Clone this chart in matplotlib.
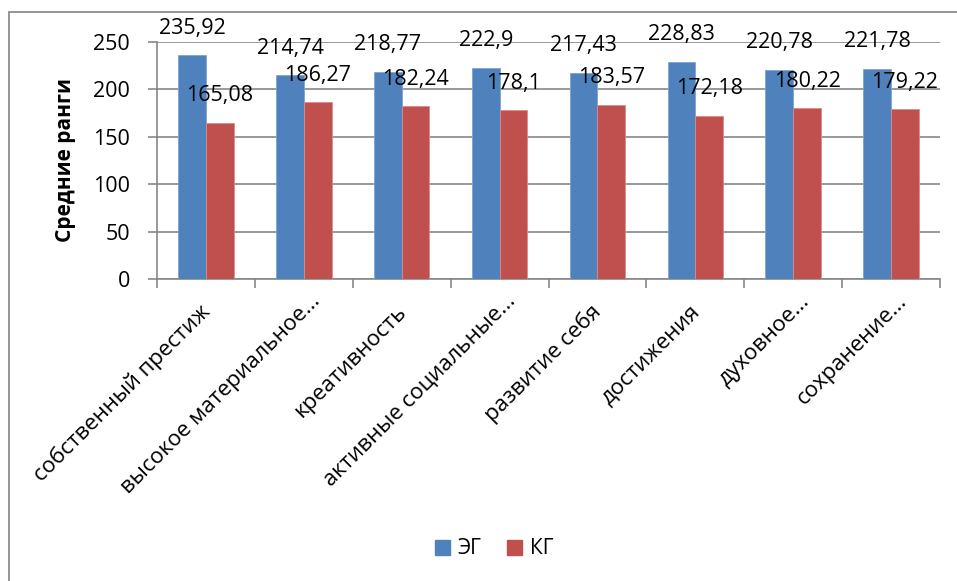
import matplotlib.pyplot as plt
import matplotlib.patches as mpatches
import matplotlib.transforms as mtransforms
import numpy as np

categories = ["собственный престиж", "высокое материальное...", "креативность",
              "активные социальные...", "развитие себя", "достижения",
              "духовное...", "сохранение..."]
eg_values = [235.92, 214.74, 218.77, 222.9, 217.43, 228.83, 220.78, 221.78]
kg_values = [165.08, 186.27, 182.24, 178.1, 183.57, 172.18, 180.22, 179.22]
series_names = ["ЭГ", "КГ"]

BLUE = "#4F81BD"
RED = "#C0504D"
GRID = "#878787"

plt.rcParams['font.family'] = ['Open Sans', 'DejaVu Sans']

fig = plt.figure(figsize=(9.57, 5.81), dpi=100)
ax = fig.add_axes([157 / 957, 1 - 279 / 581, 783 / 957, 237 / 581])

# chart area border (clipped at right/bottom like the screenshot)
fig.patches.append(mpatches.Rectangle((9 / 957, -0.05), 1.1, 1 - 12 / 581 + 0.05,
                                      transform=fig.transFigure, fill=False,
                                      edgecolor="#8c8c8c", linewidth=1.3))

x = np.arange(len(categories))
w = 0.283
b1 = ax.bar(x - w / 2, eg_values, w, color=BLUE, edgecolor="#7fa3d3", linewidth=0.6,
            label=series_names[0], zorder=3)
b2 = ax.bar(x + w / 2, kg_values, w, color=RED, edgecolor="#d98c8a", linewidth=0.6,
            label=series_names[1], zorder=3)

for bars, vals in ((b1, eg_values), (b2, kg_values)):
    for rect, v in zip(bars, vals):
        ax.annotate(('%g' % v).replace('.', ','),
                    (rect.get_x() + rect.get_width() / 2, v),
                    xytext=(0, 19.5), textcoords="offset points",
                    ha="center", va="center", fontsize=15.5, zorder=5)

ax.set_xlim(-0.5, len(categories) - 0.5)
ax.set_ylim(0, 250)
ax.set_yticks(range(0, 251, 50))
ax.yaxis.grid(True, color=GRID, linewidth=1.2, zorder=0)
ax.set_axisbelow(True)

for s in ("top", "right"):
    ax.spines[s].set_visible(False)
for s in ("left", "bottom"):
    ax.spines[s].set_color(GRID)
    ax.spines[s].set_linewidth(1.2)

ax.tick_params(axis="y", length=6.5, width=1.2, color=GRID, pad=13, labelsize=15.5)
ax.set_xticks(np.arange(len(categories) + 1) - 0.5)
ax.set_xticklabels([])
ax.tick_params(axis="x", length=6.5, width=1.2, color=GRID)
ax.set_xticks(x, minor=True)
labels = ax.set_xticklabels(categories, minor=True, rotation=45, ha="right",
                            va="baseline", rotation_mode="anchor", fontsize=16)
ax.tick_params(axis="x", which="minor", length=0, pad=0)
# shift the rotated labels so their ends sit like Excel's
for lab, name in zip(labels, categories):
    dx, dy = (17, -23) if name.endswith("...") else (5, -34)
    lab.set_transform(lab.get_transform() +
                      mtransforms.ScaledTranslation(dx / 100, dy / 100, fig.dpi_scale_trans))

ax.set_ylabel("Средние ранги", fontsize=15, fontweight="bold", labelpad=12)

handles = [mpatches.Patch(color=BLUE), mpatches.Patch(color=RED)]
fig.legend(handles, series_names, loc="center", bbox_to_anchor=(494 / 957, 1 - 549 / 581),
           ncol=2, frameon=False, fontsize=15, handlelength=0.75, handleheight=0.75,
           handletextpad=0.35, columnspacing=1.2)

fig.savefig("out.png", dpi=100)
